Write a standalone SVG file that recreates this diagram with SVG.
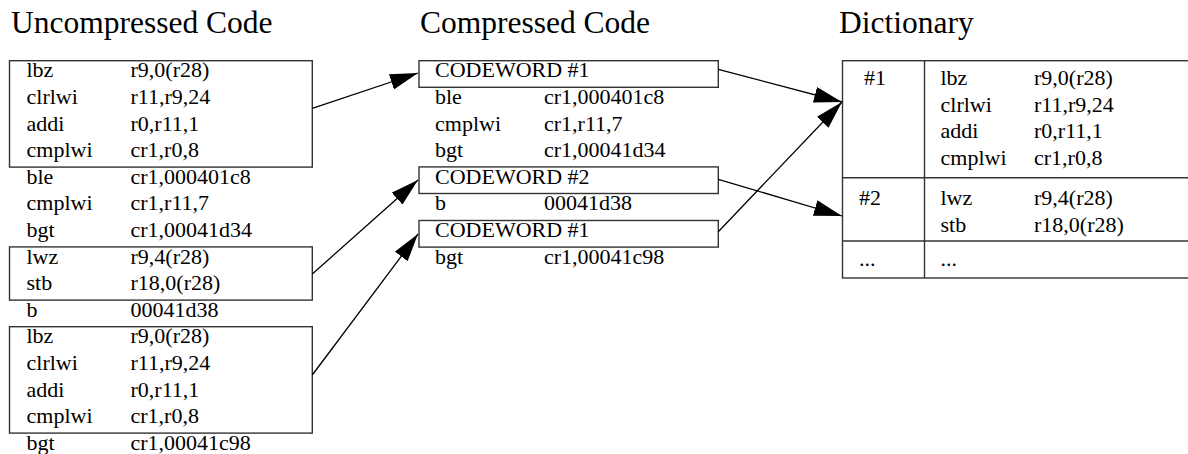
<svg xmlns="http://www.w3.org/2000/svg" width="1188" height="454" viewBox="0 0 1188 454">
<style>
text{font-family:"Liberation Serif","Times New Roman",serif;fill:#000}
.t{font-size:31.5px}
.c{font-size:22px}
.box{fill:none;stroke:#333;stroke-width:1.4}
.ln{fill:none;stroke:#000;stroke-width:1.3}
</style>
<defs>
<marker id="ah" markerWidth="28" markerHeight="16" refX="28" refY="8" orient="auto" markerUnits="userSpaceOnUse">
<path d="M0,0 L28,8 L0,16 z" fill="#000"/>
</marker>
</defs>
<rect width="1188" height="454" fill="#fff"/>
<g id="titles">
<text class="t" x="11" y="33.3">Uncompressed Code</text>
<text class="t" x="420" y="33.3">Compressed Code</text>
<text class="t" x="839" y="33.3">Dictionary</text>
</g>
<g id="uncompressed">
<rect class="box" x="9.5" y="60.7" width="302.8" height="106.4"/>
<rect class="box" x="9.5" y="246.9" width="302.8" height="53.2"/>
<rect class="box" x="9.5" y="326.7" width="302.8" height="106.4"/>
<g class="c">
<text x="26.5" y="77.3">lbz</text><text x="130.5" y="77.3">r9,0(r28)</text>
<text x="26.5" y="103.9">clrlwi</text><text x="130.5" y="103.9">r11,r9,24</text>
<text x="26.5" y="130.5">addi</text><text x="130.5" y="130.5">r0,r11,1</text>
<text x="26.5" y="157.1">cmplwi</text><text x="130.5" y="157.1">cr1,r0,8</text>
<text x="26.5" y="183.7">ble</text><text x="130.5" y="183.7">cr1,000401c8</text>
<text x="26.5" y="210.3">cmplwi</text><text x="130.5" y="210.3">cr1,r11,7</text>
<text x="26.5" y="236.9">bgt</text><text x="130.5" y="236.9">cr1,00041d34</text>
<text x="26.5" y="263.5">lwz</text><text x="130.5" y="263.5">r9,4(r28)</text>
<text x="26.5" y="290.1">stb</text><text x="130.5" y="290.1">r18,0(r28)</text>
<text x="26.5" y="316.7">b</text><text x="130.5" y="316.7">00041d38</text>
<text x="26.5" y="343.3">lbz</text><text x="130.5" y="343.3">r9,0(r28)</text>
<text x="26.5" y="369.9">clrlwi</text><text x="130.5" y="369.9">r11,r9,24</text>
<text x="26.5" y="396.5">addi</text><text x="130.5" y="396.5">r0,r11,1</text>
<text x="26.5" y="423.1">cmplwi</text><text x="130.5" y="423.1">cr1,r0,8</text>
<text x="26.5" y="449.7">bgt</text><text x="130.5" y="449.7">cr1,00041c98</text>
</g>
</g>
<g id="compressed">
<rect class="box" x="419" y="60.7" width="299.3" height="26.6"/>
<rect class="box" x="419" y="166.9" width="299.3" height="26.6"/>
<rect class="box" x="419" y="220.5" width="299.3" height="26.6"/>
<g class="c">
<text x="435" y="77.3">CODEWORD #1</text>
<text x="435" y="103.9">ble</text><text x="544" y="103.9">cr1,000401c8</text>
<text x="435" y="130.5">cmplwi</text><text x="544" y="130.5">cr1,r11,7</text>
<text x="435" y="157.1">bgt</text><text x="544" y="157.1">cr1,00041d34</text>
<text x="435" y="183.7">CODEWORD #2</text>
<text x="435" y="210.3">b</text><text x="544" y="210.3">00041d38</text>
<text x="435" y="236.9">CODEWORD #1</text>
<text x="435" y="263.5">bgt</text><text x="544" y="263.5">cr1,00041c98</text>
</g>
</g>
<g id="dictionary">
<rect class="box" x="842.5" y="60.7" width="360" height="217.3"/>
<line class="box" x1="924.5" y1="60.7" x2="924.5" y2="278"/>
<line class="box" x1="842.5" y1="177.7" x2="1202" y2="177.7"/>
<line class="box" x1="842.5" y1="241" x2="1202" y2="241"/>
<g class="c">
<text x="864" y="85">#1</text>
<text x="940.5" y="85">lbz</text><text x="1034" y="85">r9,0(r28)</text>
<text x="940.5" y="111.6">clrlwi</text><text x="1034" y="111.6">r11,r9,24</text>
<text x="940.5" y="138.2">addi</text><text x="1034" y="138.2">r0,r11,1</text>
<text x="940.5" y="164.8">cmplwi</text><text x="1034" y="164.8">cr1,r0,8</text>
<text x="859" y="205">#2</text>
<text x="940.5" y="205">lwz</text><text x="1034" y="205">r9,4(r28)</text>
<text x="940.5" y="231.6">stb</text><text x="1034" y="231.6">r18,0(r28)</text>
<text x="859" y="266">...</text>
<text x="940.5" y="266">...</text>
</g>
</g>
<g id="connectors">
<line class="ln" x1="312.3" y1="108.3" x2="418" y2="73" marker-end="url(#ah)"/>
<line class="ln" x1="312.3" y1="274" x2="418" y2="180" marker-end="url(#ah)"/>
<line class="ln" x1="312.3" y1="375" x2="418" y2="234" marker-end="url(#ah)"/>
<line class="ln" x1="718.3" y1="69.3" x2="842" y2="102" marker-end="url(#ah)"/>
<line class="ln" x1="718.3" y1="179.3" x2="842" y2="216" marker-end="url(#ah)"/>
<line class="ln" x1="718.3" y1="231.7" x2="842" y2="102" marker-end="url(#ah)"/>
</g>
</svg>
